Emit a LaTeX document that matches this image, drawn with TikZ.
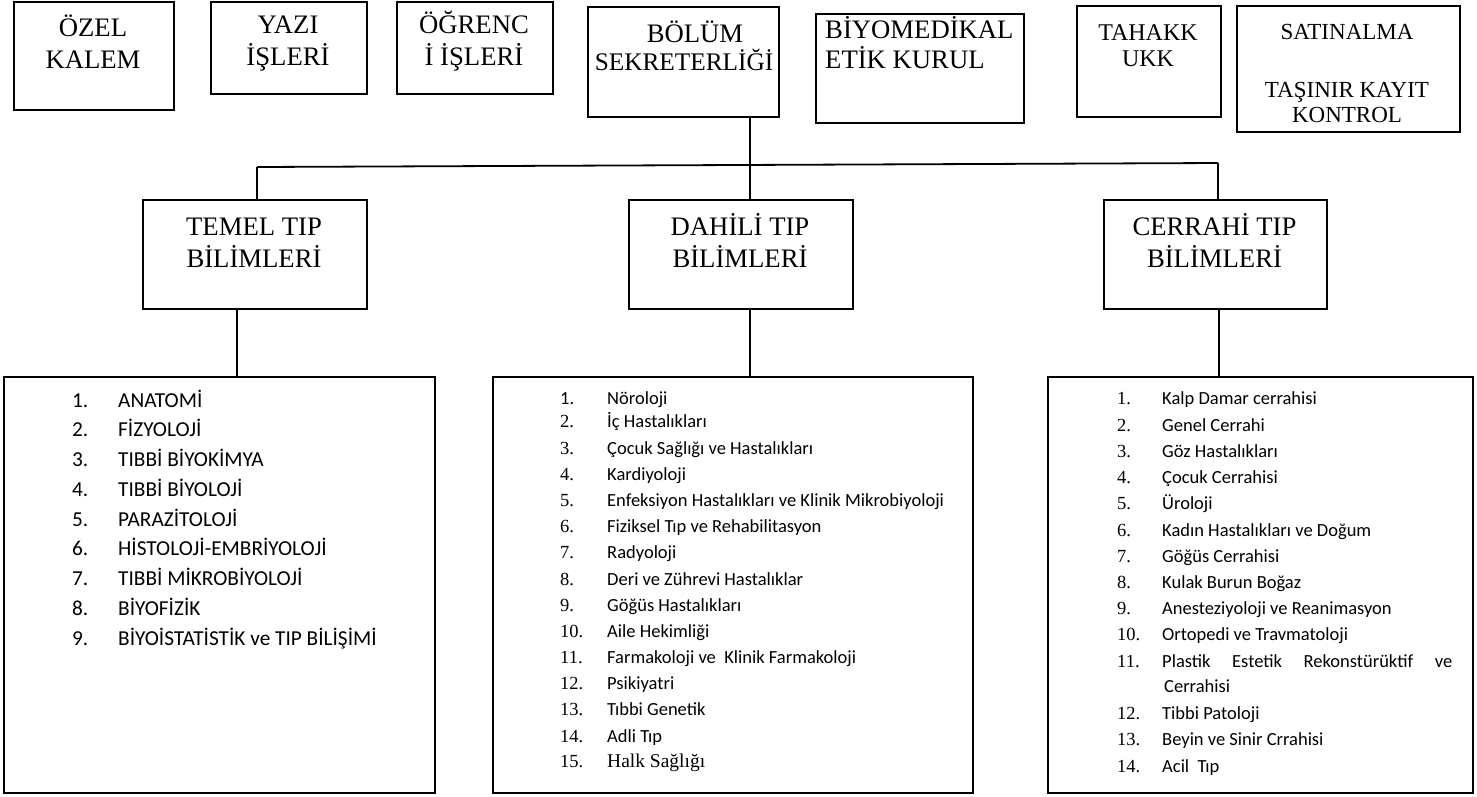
\documentclass[tikz,border=0pt]{standalone}
\usepackage{fontspec}
\setmainfont{Liberation Serif}
\newfontfamily\calfont{Carlito}
\begin{document}
\begin{tikzpicture}[x=1pt,y=-1pt,
  box/.style={draw, line width=1.5pt, inner sep=0pt, anchor=north west},
  listbox/.style={draw, line width=2pt, inner sep=0pt, anchor=north west},
  ttl/.style={font=\fontsize{26.7}{32}\selectfont, align=center, anchor=base, inner sep=0pt},
  conn/.style={line width=1.4pt},
  itemA/.style={font=\calfont\fontsize{21.3}{24}\selectfont, anchor=base west, inner sep=0pt},
  itemB/.style={font=\calfont\fontsize{18.5}{22}\selectfont, anchor=base west, inner sep=0pt},
  numB/.style={font=\fontsize{18.5}{22}\selectfont, anchor=base west, inner sep=0pt}
]
\useasboundingbox (0,0) rectangle (1477,796);

% top boxes
\node[box, minimum width=160pt, minimum height=108pt] (ozel) at (13,1) {};
\node[box, minimum width=156pt, minimum height=92pt] (yazi) at (210,1) {};
\node[box, minimum width=156pt, minimum height=92pt] (ogr) at (396,1) {};
\node[box, minimum width=191pt, minimum height=110pt] (bolum) at (587,6) {};
\node[box, line width=2.4pt, minimum width=208pt, minimum height=109pt] (biyo) at (815,13) {};
\node[box, minimum width=144pt, minimum height=111pt] (tah) at (1076,5) {};
\node[box, minimum width=223pt, minimum height=126pt] (sat) at (1236,5) {};

% (base anchor = baseline of the last line)
\node[ttl] (ozel-t) at (93,68) {ÖZEL\\KALEM};
\node[ttl] (yazi-t) at (288,65) {YAZI\\İŞLERİ};
\node[ttl] (ogr-t) at (474,65) {ÖĞRENC\\İ İŞLERİ};
\node[ttl, font=\fontsize{26.7}{28}\selectfont] (bolum-t) at (684,70) {\hspace*{22pt}BÖLÜM\\{\fontsize{25.3}{28}\selectfont SEKRETERLİĞİ}};
\node[ttl, align=left, anchor=base west, font=\fontsize{26.7}{30}\selectfont] (biyo-t) at (825,68) {BİYOMEDİKAL\\ETİK KURUL};
\node[ttl, font=\fontsize{24}{26}\selectfont] (tah-t) at (1148,66) {TAHAKK\\UKK};
\node[ttl, font=\fontsize{23}{25}\selectfont] (sat-t) at (1347,122) {SATINALMA\\[33pt]TAŞINIR KAYIT\\KONTROL};

% middle boxes
\node[box, minimum width=224pt, minimum height=109pt] (temel) at (142,199) {};
\node[box, minimum width=224pt, minimum height=109pt] (dahili) at (628,199) {};
\node[box, minimum width=223pt, minimum height=109pt] (cerrahi) at (1103,199) {};
\node[ttl] (temel-t) at (254,267) {TEMEL TIP\\BİLİMLERİ};
\node[ttl] (dahili-t) at (740,267) {DAHİLİ TIP\\BİLİMLERİ};
\node[ttl] (cerrahi-t) at (1214.5,267) {CERRAHİ TIP\\BİLİMLERİ};

% list boxes
\node[listbox, minimum width=431pt, minimum height=416pt] (temelL) at (3,376) {};
\node[listbox, minimum width=480pt, minimum height=416pt] (dahiliL) at (492,376) {};
\node[listbox, minimum width=425pt, minimum height=416pt] (cerrahiL) at (1047,376) {};

% connectors
\coordinate (hl) at (257,167);
\coordinate (hr) at (1218,163);
\coordinate (hm) at (750,165);
\draw[conn] (hm |- bolum.south) -- (hm);
\draw[conn] (hl |- temel.north) -- (hl);
\draw[conn, line width=1.8pt] (hl) -- (hr);
\draw[conn] (hr) -- (hr |- cerrahi.north);
\draw[conn] (hm) -- (hm |- dahili.north);
\coordinate (c1) at (237,0);
\coordinate (c2) at (750,0);
\coordinate (c3) at (1219,0);
\draw[conn] (c1 |- temel.south) -- (c1 |- temelL.north);
\draw[conn] (c2 |- dahili.south) -- (c2 |- dahiliL.north);
\draw[conn] (c3 |- cerrahi.south) -- (c3 |- cerrahiL.north);

% Temel list
\foreach \t [count=\i] in {ANATOMİ, FİZYOLOJİ, TIBBİ BİYOKİMYA, TIBBİ BİYOLOJİ, PARAZİTOLOJİ, HİSTOLOJİ-EMBRİYOLOJİ, TIBBİ MİKROBİYOLOJİ, BİYOFİZİK, BİYOİSTATİSTİK ve TIP BİLİŞİMİ}{
  \node[itemA] (tn\i) at (72,{407+29.75*(\i-1)}) {\i.};
  \node[itemA] (tt\i) at (118,{407+29.75*(\i-1)}) {\t};
}

% Dahili list
\node[itemB] (dn1) at (560,404) {1.};
\node[itemB] (dt1) at (607,404) {Nöroloji};
\foreach \y/\n/\t in {427/2/İç Hastalıkları, 454/3/Çocuk Sağlığı ve Hastalıkları, 480/4/Kardiyoloji, 506/5/Enfeksiyon Hastalıkları ve Klinik Mikrobiyoloji, 532/6/Fiziksel Tıp ve Rehabilitasyon, 558/7/Radyoloji, 585/8/Deri ve Zührevi Hastalıklar, 611/9/Göğüs Hastalıkları, 637/10/Aile Hekimliği, 663/11/Farmakoloji ve~ Klinik Farmakoloji, 689/12/Psikiyatri, 715/13/Tıbbi Genetik, 742/14/Adli Tıp}{
  \node[numB] (dn\n) at (560,\y) {\n.};
  \node[itemB] (dt\n) at (607,\y) {\t};
}
\node[numB] (dn15) at (560,767) {15.};
\node[numB, font=\fontsize{19.5}{22}\selectfont] (dt15) at (607,767) {Halk Sağlığı};

% Cerrahi list
\foreach \y/\n/\t in {404/1/Kalp Damar cerrahisi, 431/2/Genel Cerrahi, 457/3/Göz Hastalıkları, 483/4/Çocuk Cerrahisi, 509/5/Üroloji, 536/6/Kadın Hastalıkları ve Doğum, 562/7/Göğüs Cerrahisi, 588/8/Kulak Burun Boğaz, 614/9/Anesteziyoloji ve Reanimasyon, 640/10/Ortopedi ve Travmatoloji, 719/12/Tibbi Patoloji, 745/13/Beyin ve Sinir Crrahisi, 772/14/Acil~ Tıp}{
  \node[numB] (cn\n) at (1117,\y) {\n.};
  \node[itemB] (ct\n) at (1162,\y) {\t};
}
\node[numB] (cn11) at (1117,667) {11.};
\node[itemB] (ct11) at (1162,667) {\makebox[290pt][s]{Plastik Estetik Rekonstürüktif ve}};
\node[itemB] (ct11b) at (1164,692) {Cerrahisi};
\end{tikzpicture}
\end{document}
